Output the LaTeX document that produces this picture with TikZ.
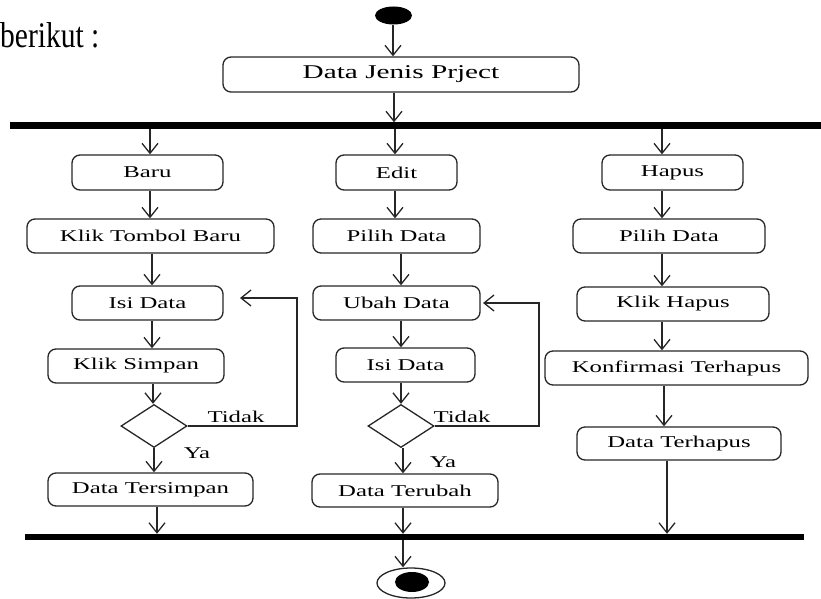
\documentclass[tikz,border=0pt]{standalone}
\usepackage{fontspec}
\setmainfont{Liberation Serif}
\newfontfamily\dfont[FakeStretch=1.5]{Liberation Serif}
\newfontfamily\ifont[FakeStretch=0.82]{Liberation Serif}
\usetikzlibrary{arrows.meta,shapes.geometric}
\begin{document}
\begin{tikzpicture}[x=1pt,y=-1pt,
 box/.style={draw=black!85, line width=1.3pt, rounded corners=8pt, minimum height=34pt, inner sep=0pt, font=\dfont\fontsize{16.5}{18}\selectfont},
 arr/.style={draw=black!85, line width=1.5pt, -{Straight Barb[length=10pt,width=16pt,line width=1.3pt]}},
 dec/.style={diamond, draw=black!85, line width=1.3pt, minimum width=66pt, minimum height=43pt, inner sep=0pt},
 bar/.style={fill=black, inner sep=0pt, minimum height=6pt},
 lbl/.style={font=\dfont\fontsize{16.5}{18}\selectfont, inner sep=0pt}]
\useasboundingbox (0,0) rectangle (821,599);

\node[anchor=base west, inner sep=0pt, font=\ifont\fontsize{36}{40}\selectfont] (intro) at (0,48) {berikut :};

% start
\node[ellipse, fill=black, minimum width=37pt, minimum height=18pt, inner sep=0pt] (start) at (393.5,15.5) {};
\node[box, minimum width=356pt, minimum height=35pt, font=\dfont\fontsize{19.5}{22}\selectfont] (title) at (401,74.5) {Data Jenis Prject};
\node[bar, minimum width=811pt] (bar1) at (415.5,125.5) {};
\node[bar, minimum width=779pt] (bar2) at (414.5,537) {};

% column 1
\node[box, minimum width=151pt, minimum height=35pt] (baru) at (147.5,172.5) {Baru};
\node[box, minimum width=247pt] (tombol) at (150.5,236) {Klik Tombol Baru};
\node[box, minimum width=151pt] (isi1) at (147.5,303) {Isi Data};
\node[box, minimum width=176pt] (simpan) at (136,366) {Klik Simpan};
\node[dec] (d1) at (154,426) {};
\node[box, minimum width=205pt, minimum height=33pt] (tersimpan) at (150.5,489.5) {Data Tersimpan};

% column 2
\node[box, minimum width=121pt, minimum height=35pt] (edit) at (396.5,172.5) {Edit};
\node[box, minimum width=167pt] (pilih2) at (396.5,236) {Pilih Data};
\node[box, minimum width=167pt] (ubah) at (396.5,303) {Ubah Data};
\node[box, minimum width=139pt] (isi2) at (405.5,365) {Isi Data};
\node[dec] (d2) at (401,426) {};
\node[box, minimum width=186pt, minimum height=33pt] (terubah) at (405,490.5) {Data Terubah};

% column 3
\node[box, minimum width=141pt, minimum height=35pt] (hapus) at (672.5,172.5) {Hapus};
\node[box, minimum width=192pt] (pilih3) at (669,236) {Pilih Data};
\node[box, minimum width=192pt] (klikhapus) at (673,304) {Klik Hapus};
\node[box, minimum width=263pt] (konf) at (676.5,368) {Konfirmasi Terhapus};
\node[box, minimum width=204pt, minimum height=33pt] (terhapus) at (679,443.5) {Data Terhapus};

% end
\node[ellipse, draw=black!85, line width=1.3pt, minimum width=68pt, minimum height=30pt, inner sep=0pt] (endo) at (411,583) {};
\node[ellipse, fill=black, minimum width=34pt, minimum height=20pt, inner sep=0pt] (endi) at (412,582) {};

% labels
\node[lbl] (t1) at (236,417) {Tidak};
\node[lbl] (y1) at (197,453) {Ya};
\node[lbl] (t2) at (462,417) {Tidak};
\node[lbl] (y2) at (443,462) {Ya};

\coordinate (in1) at (240,298);
\coordinate (in2) at (483,303);

% arrows top
\draw[arr] (start.south -| 393,0) -- (title.north -| 393,0);
\draw[arr] (title.south -| 394,0) -- (bar1.north -| 394,0);

% column 1 arrows
\draw[arr] (bar1.south -| 150,0) -- (baru.north -| 150,0);
\draw[arr] (baru.south -| 150,0) -- (tombol.north -| 150,0);
\draw[arr] (tombol.south -| 152,0) -- (isi1.north -| 152,0);
\draw[arr] (isi1.south -| 152,0) -- (simpan.north -| 152,0);
\draw[arr] (simpan.south -| 153,0) -- (d1.north -| 153,0);
\draw[arr] (d1.south -| 154,0) -- (tersimpan.north -| 154,0);
\draw[arr] (tersimpan.south -| 157,0) -- (bar2.north -| 157,0);
\draw[arr] (d1.east) -| (297,298) -- (in1);

% column 2 arrows
\draw[arr] (bar1.south -| 395,0) -- (edit.north -| 395,0);
\draw[arr] (edit.south -| 395,0) -- (pilih2.north -| 395,0);
\draw[arr] (pilih2.south -| 401,0) -- (ubah.north -| 401,0);
\draw[arr] (ubah.south -| 401,0) -- (isi2.north -| 401,0);
\draw[arr] (isi2.south -| 401,0) -- (d2.north -| 401,0);
\draw[arr] (d2.south -| 403,0) -- (terubah.north -| 403,0);
\draw[arr] (terubah.south -| 403,0) -- (bar2.north -| 403,0);
\draw[arr] (bar2.south -| 403,0) -- (endo.north -| 403,0);
\draw[arr] (d2.east) -| (539,303) -- (in2);

% column 3 arrows
\draw[arr] (bar1.south -| 662,0) -- (hapus.north -| 662,0);
\draw[arr] (hapus.south -| 662,0) -- (pilih3.north -| 662,0);
\draw[arr] (pilih3.south -| 662,0) -- (klikhapus.north -| 662,0);
\draw[arr] (klikhapus.south -| 662,0) -- (konf.north -| 662,0);
\draw[arr] (konf.south -| 664,0) -- (terhapus.north -| 664,0);
\draw[arr] (terhapus.south -| 667,0) -- (bar2.north -| 667,0);
\end{tikzpicture}
\end{document}
